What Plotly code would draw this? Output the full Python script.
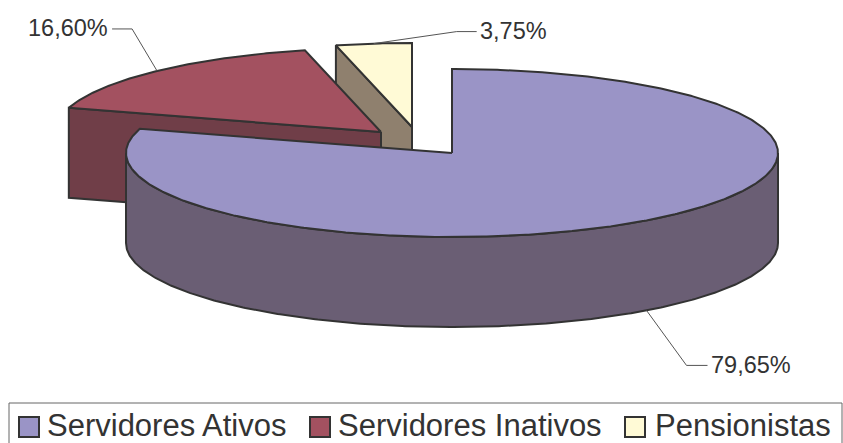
import numpy as np
import plotly.graph_objects as go

# ---------------- data ----------------
CATEGORIES = ["Servidores Ativos", "Servidores Inativos", "Pensionistas"]
VALUES = [79.65, 16.60, 3.75]

# ---------------- style ----------------
TOP_COLORS = ["#9A94C6", "#A35160", "#FFFAD6"]
SIDE_COLORS = ["#6A5E74", "#703E48", "#8F806E"]
EDGE = "#333333"
TEXT = "#333333"
FONT = "Liberation Sans, Arial, sans-serif"

W, H = 843, 443
CX, CY, RX, RY, DEPTH = 452, 153, 326, 84, 90
EXPLODE = [(0, 0), (-71, -21), (-40, -26)]          # pixel offset of each slice apex
LABEL_ELBOW = [(40, 55), (-25, -42), (83, -12)]     # elbow offset from slice anchor
LABEL_TAIL = [(21, 0), (-20, 0), (20, 0)]           # horizontal tail after elbow
LEGEND_SQ_X = [19, 310, 625]
LEGEND_TXT_X = [45, 336, 653]


def point(theta, ox, oy, dz=0.0):
    t = np.radians(theta)
    return CX + ox + RX * np.sin(t), CY + oy - RY * np.cos(t) + dz


def arc(a0, a1, ox, oy, dz=0.0):
    n = max(2, int(abs(a1 - a0) * 2))
    th = np.linspace(a0, a1, n)
    t = np.radians(th)
    return list(CX + ox + RX * np.sin(t)), list(CY + oy - RY * np.cos(t) + dz)


fig = go.Figure()


def poly(xs, ys, fill):
    fig.add_trace(go.Scatter(
        x=xs + [xs[0]], y=ys + [ys[0]], mode="lines", fill="toself",
        fillcolor=fill, line=dict(color=EDGE, width=2), hoverinfo="skip",
        showlegend=False))


total = sum(VALUES)
starts, ends = [], []
acc = 0.0
for v in VALUES:
    starts.append(acc / total * 360.0)
    acc += v
    ends.append(acc / total * 360.0)

# draw back slices first (apex higher on screen = further back)
order = sorted(range(len(VALUES)), key=lambda i: CY + EXPLODE[i][1])
for i in order:
    a0, a1 = starts[i], ends[i]
    ox, oy = EXPLODE[i]
    ax_, ay_ = CX + ox, CY + oy
    # radial face at start angle
    if np.cos(np.radians(a0 - 90)) < -1e-6:
        px, py = point(a0, ox, oy)
        poly([ax_, px, px, ax_], [ay_, py, py + DEPTH, ay_ + DEPTH], SIDE_COLORS[i])
    # radial face at end angle
    if np.cos(np.radians(a1 + 90)) < -1e-6:
        px, py = point(a1, ox, oy)
        poly([ax_, px, px, ax_], [ay_, py, py + DEPTH, ay_ + DEPTH], SIDE_COLORS[i])
    # outer wall (front half only)
    w0, w1 = max(a0, 90), min(a1, 270)
    if w1 > w0:
        tx, ty = arc(w0, w1, ox, oy)
        bx, by = arc(w1, w0, ox, oy, DEPTH)
        poly(tx + bx, ty + by, SIDE_COLORS[i])
    # top face
    tx, ty = arc(a0, a1, ox, oy)
    poly([ax_] + tx, [ay_] + ty, TOP_COLORS[i])

# labels with leader lines
for i, v in enumerate(VALUES):
    mid = (starts[i] + ends[i]) / 2
    ox, oy = EXPLODE[i]
    dz = DEPTH if np.cos(np.radians(mid)) < 0 else 0
    sx, sy = point(mid, ox, oy, dz)
    ex, ey = sx + LABEL_ELBOW[i][0], sy + LABEL_ELBOW[i][1]
    hx, hy = ex + LABEL_TAIL[i][0], ey + LABEL_TAIL[i][1]
    fig.add_trace(go.Scatter(x=[sx, ex, hx], y=[sy, ey, hy], mode="lines",
                             line=dict(color="#555555", width=1),
                             hoverinfo="skip", showlegend=False))
    txt = f"{v:.2f}".replace(".", ",") + "%"
    right = LABEL_TAIL[i][0] < 0
    fig.add_annotation(x=hx + (-2 if right else 1), y=hy - 0.5, text=txt, showarrow=False,
                       xanchor="right" if right else "left", yanchor="middle",
                       font=dict(family=FONT, size=23.5, color=TEXT))

# legend (box, swatches, names)
fig.add_shape(type="rect", x0=9, x1=842, y0=403, y1=460,
              line=dict(color="#666666", width=1), fillcolor="rgba(0,0,0,0)")
for i, name in enumerate(CATEGORIES):
    fig.add_shape(type="rect", x0=LEGEND_SQ_X[i], x1=LEGEND_SQ_X[i] + 20,
                  y0=417, y1=437, fillcolor=TOP_COLORS[i],
                  line=dict(color=EDGE, width=2))
    fig.add_annotation(x=LEGEND_TXT_X[i], y=425, text=name, showarrow=False,
                       xanchor="left", yanchor="middle",
                       font=dict(family=FONT, size=31, color=TEXT))

fig.update_layout(
    width=W, height=H, autosize=False,
    margin=dict(l=0, r=0, t=0, b=0),
    paper_bgcolor="white", plot_bgcolor="white",
    showlegend=False,
    xaxis=dict(range=[0, W], visible=False, fixedrange=True),
    yaxis=dict(range=[H, 0], visible=False, fixedrange=True),
)

fig.write_html(
    "out.html",
    config={"displayModeBar": False},
    post_script="document.body.style.margin='0';document.body.style.overflow='hidden';",
)
